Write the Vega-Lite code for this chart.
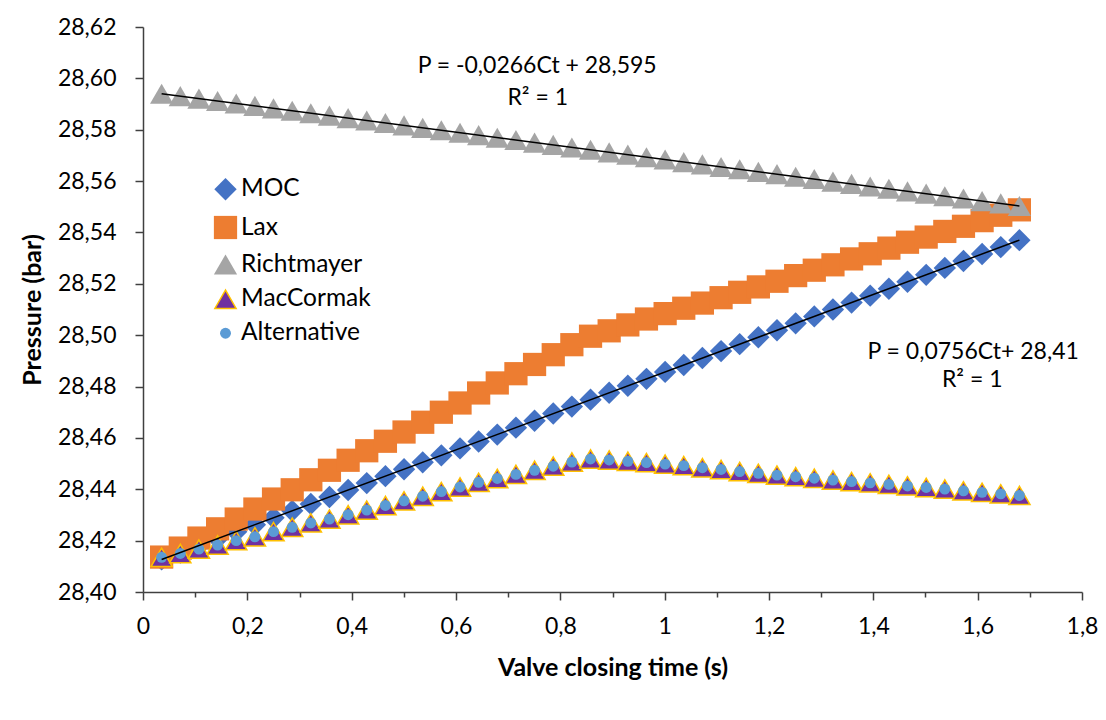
{
  "$schema": "https://vega.github.io/schema/vega-lite/v6.json",
  "autosize": {"type": "none"},
  "width": 939,
  "height": 565,
  "padding": {"left": 143, "top": 27, "right": 24, "bottom": 128},
  "background": "white",
  "config": {
    "view": {"stroke": null},
    "legend": {"labelFont": "Lato", "labelFontSize": 24.5, "labelColor": "#000000", "orient": "none", "legendX": 70, "legendY": 150, "rowPadding": 8, "labelOffset": 3, "padding": 0, "symbolStrokeWidth": 1.5}
  },
  "datasets": {
    "series": [
      {"t": 0.0357, "MOC": 28.4127, "Lax": 28.4136, "Richtmayer": 28.5940, "MacCormak": 28.4135, "Alternative": 28.4135},
      {"t": 0.0715, "MOC": 28.4154, "Lax": 28.4171, "Richtmayer": 28.5931, "MacCormak": 28.4150, "Alternative": 28.4150},
      {"t": 0.1072, "MOC": 28.4181, "Lax": 28.4210, "Richtmayer": 28.5921, "MacCormak": 28.4167, "Alternative": 28.4167},
      {"t": 0.1430, "MOC": 28.4208, "Lax": 28.4246, "Richtmayer": 28.5912, "MacCormak": 28.4183, "Alternative": 28.4183},
      {"t": 0.1787, "MOC": 28.4235, "Lax": 28.4284, "Richtmayer": 28.5902, "MacCormak": 28.4200, "Alternative": 28.4200},
      {"t": 0.2145, "MOC": 28.4262, "Lax": 28.4323, "Richtmayer": 28.5893, "MacCormak": 28.4215, "Alternative": 28.4215},
      {"t": 0.2502, "MOC": 28.4289, "Lax": 28.4362, "Richtmayer": 28.5883, "MacCormak": 28.4235, "Alternative": 28.4235},
      {"t": 0.2860, "MOC": 28.4316, "Lax": 28.4398, "Richtmayer": 28.5874, "MacCormak": 28.4252, "Alternative": 28.4252},
      {"t": 0.3217, "MOC": 28.4343, "Lax": 28.4437, "Richtmayer": 28.5864, "MacCormak": 28.4269, "Alternative": 28.4269},
      {"t": 0.3574, "MOC": 28.4370, "Lax": 28.4474, "Richtmayer": 28.5855, "MacCormak": 28.4284, "Alternative": 28.4284},
      {"t": 0.3932, "MOC": 28.4397, "Lax": 28.4513, "Richtmayer": 28.5845, "MacCormak": 28.4301, "Alternative": 28.4301},
      {"t": 0.4289, "MOC": 28.4424, "Lax": 28.4550, "Richtmayer": 28.5836, "MacCormak": 28.4319, "Alternative": 28.4319},
      {"t": 0.4647, "MOC": 28.4451, "Lax": 28.4587, "Richtmayer": 28.5826, "MacCormak": 28.4337, "Alternative": 28.4337},
      {"t": 0.5004, "MOC": 28.4478, "Lax": 28.4623, "Richtmayer": 28.5817, "MacCormak": 28.4355, "Alternative": 28.4355},
      {"t": 0.5362, "MOC": 28.4505, "Lax": 28.4661, "Richtmayer": 28.5807, "MacCormak": 28.4373, "Alternative": 28.4373},
      {"t": 0.5719, "MOC": 28.4532, "Lax": 28.4700, "Richtmayer": 28.5798, "MacCormak": 28.4391, "Alternative": 28.4391},
      {"t": 0.6077, "MOC": 28.4559, "Lax": 28.4736, "Richtmayer": 28.5788, "MacCormak": 28.4409, "Alternative": 28.4409},
      {"t": 0.6434, "MOC": 28.4586, "Lax": 28.4775, "Richtmayer": 28.5779, "MacCormak": 28.4427, "Alternative": 28.4427},
      {"t": 0.6791, "MOC": 28.4613, "Lax": 28.4814, "Richtmayer": 28.5769, "MacCormak": 28.4442, "Alternative": 28.4442},
      {"t": 0.7149, "MOC": 28.4640, "Lax": 28.4850, "Richtmayer": 28.5760, "MacCormak": 28.4458, "Alternative": 28.4458},
      {"t": 0.7506, "MOC": 28.4667, "Lax": 28.4886, "Richtmayer": 28.5750, "MacCormak": 28.4474, "Alternative": 28.4474},
      {"t": 0.7864, "MOC": 28.4695, "Lax": 28.4924, "Richtmayer": 28.5741, "MacCormak": 28.4490, "Alternative": 28.4490},
      {"t": 0.8221, "MOC": 28.4722, "Lax": 28.4963, "Richtmayer": 28.5731, "MacCormak": 28.4506, "Alternative": 28.4506},
      {"t": 0.8579, "MOC": 28.4749, "Lax": 28.4996, "Richtmayer": 28.5722, "MacCormak": 28.4518, "Alternative": 28.4518},
      {"t": 0.8936, "MOC": 28.4776, "Lax": 28.5017, "Richtmayer": 28.5712, "MacCormak": 28.4514, "Alternative": 28.4514},
      {"t": 0.9294, "MOC": 28.4803, "Lax": 28.5040, "Richtmayer": 28.5703, "MacCormak": 28.4509, "Alternative": 28.4509},
      {"t": 0.9651, "MOC": 28.4830, "Lax": 28.5063, "Richtmayer": 28.5693, "MacCormak": 28.4504, "Alternative": 28.4504},
      {"t": 1.0009, "MOC": 28.4857, "Lax": 28.5084, "Richtmayer": 28.5684, "MacCormak": 28.4498, "Alternative": 28.4498},
      {"t": 1.0366, "MOC": 28.4884, "Lax": 28.5105, "Richtmayer": 28.5674, "MacCormak": 28.4492, "Alternative": 28.4492},
      {"t": 1.0723, "MOC": 28.4911, "Lax": 28.5125, "Richtmayer": 28.5665, "MacCormak": 28.4484, "Alternative": 28.4484},
      {"t": 1.1081, "MOC": 28.4938, "Lax": 28.5146, "Richtmayer": 28.5655, "MacCormak": 28.4477, "Alternative": 28.4477},
      {"t": 1.1438, "MOC": 28.4965, "Lax": 28.5167, "Richtmayer": 28.5646, "MacCormak": 28.4469, "Alternative": 28.4469},
      {"t": 1.1796, "MOC": 28.4992, "Lax": 28.5188, "Richtmayer": 28.5636, "MacCormak": 28.4462, "Alternative": 28.4462},
      {"t": 1.2153, "MOC": 28.5019, "Lax": 28.5210, "Richtmayer": 28.5627, "MacCormak": 28.4455, "Alternative": 28.4455},
      {"t": 1.2511, "MOC": 28.5046, "Lax": 28.5232, "Richtmayer": 28.5617, "MacCormak": 28.4449, "Alternative": 28.4449},
      {"t": 1.2868, "MOC": 28.5073, "Lax": 28.5253, "Richtmayer": 28.5608, "MacCormak": 28.4443, "Alternative": 28.4443},
      {"t": 1.3226, "MOC": 28.5100, "Lax": 28.5274, "Richtmayer": 28.5598, "MacCormak": 28.4436, "Alternative": 28.4436},
      {"t": 1.3583, "MOC": 28.5127, "Lax": 28.5297, "Richtmayer": 28.5589, "MacCormak": 28.4430, "Alternative": 28.4430},
      {"t": 1.3940, "MOC": 28.5154, "Lax": 28.5317, "Richtmayer": 28.5579, "MacCormak": 28.4425, "Alternative": 28.4425},
      {"t": 1.4298, "MOC": 28.5181, "Lax": 28.5339, "Richtmayer": 28.5570, "MacCormak": 28.4419, "Alternative": 28.4419},
      {"t": 1.4655, "MOC": 28.5208, "Lax": 28.5362, "Richtmayer": 28.5560, "MacCormak": 28.4413, "Alternative": 28.4413},
      {"t": 1.5013, "MOC": 28.5235, "Lax": 28.5382, "Richtmayer": 28.5551, "MacCormak": 28.4407, "Alternative": 28.4407},
      {"t": 1.5370, "MOC": 28.5262, "Lax": 28.5404, "Richtmayer": 28.5541, "MacCormak": 28.4401, "Alternative": 28.4401},
      {"t": 1.5728, "MOC": 28.5289, "Lax": 28.5424, "Richtmayer": 28.5532, "MacCormak": 28.4394, "Alternative": 28.4394},
      {"t": 1.6085, "MOC": 28.5316, "Lax": 28.5446, "Richtmayer": 28.5522, "MacCormak": 28.4388, "Alternative": 28.4388},
      {"t": 1.6443, "MOC": 28.5343, "Lax": 28.5467, "Richtmayer": 28.5513, "MacCormak": 28.4382, "Alternative": 28.4382},
      {"t": 1.6800, "MOC": 28.5370, "Lax": 28.5488, "Richtmayer": 28.5503, "MacCormak": 28.4376, "Alternative": 28.4376}
    ],
    "notes": [
      {"t": 0.7556, "p": 28.6048, "txt": "P = -0,0266Ct + 28,595"},
      {"t": 0.7566, "p": 28.5924, "txt": "R² = 1"},
      {"t": 1.5914, "p": 28.4934, "txt": "P = 0,0756Ct+ 28,41"},
      {"t": 1.5895, "p": 28.4825, "txt": "R² = 1"}
    ]
  },
  "layer": [
    {
      "data": {"name": "series"},
      "mark": {"type": "point", "filled": true, "opacity": 1, "strokeWidth": 1.5},
      "encoding": {
        "x": {"field": "t", "type": "quantitative", "title": "Valve closing time (s)",
          "scale": {"domain": [0, 1.8], "nice": false, "zero": false},
          "axis": {
            "values": [0,0.05,0.1,0.15,0.2,0.25,0.3,0.35,0.4,0.45,0.5,0.55,0.6,0.65,0.7,0.75,0.8,0.85,0.9,0.95,1,1.05,1.1,1.15,1.2,1.25,1.3,1.35,1.4,1.45,1.5,1.55,1.6,1.65,1.7,1.75,1.8],
            "labelExpr": "abs(datum.value*5-round(datum.value*5))<0.01 ? replace(format(datum.value,'~g'),'.',',') : ''",
            "tickSize": {"condition": {"test": "abs(datum.value*5-round(datum.value*5))<0.01", "value": 8}, "value": 5},
            "grid": false, "domainColor": "#404040", "domainWidth": 1.5, "tickColor": "#404040", "tickWidth": 1.5,
            "labelFont": "Lato", "labelFontSize": 23, "labelColor": "#000000", "labelPadding": 15, "labelOverlap": false, "labelFlush": false,
            "titleFont": "Lato", "titleFontSize": 25, "titleFontWeight": "bold", "titleColor": "#000000", "titlePadding": 17
          }},
        "y": {"field": "MOC", "type": "quantitative", "title": "Pressure (bar)",
          "scale": {"domain": [28.4, 28.62], "nice": false, "zero": false},
          "axis": {
            "values": [28.4,28.405,28.41,28.415,28.42,28.425,28.43,28.435,28.44,28.445,28.45,28.455,28.46,28.465,28.47,28.475,28.48,28.485,28.49,28.495,28.5,28.505,28.51,28.515,28.52,28.525,28.53,28.535,28.54,28.545,28.55,28.555,28.56,28.565,28.57,28.575,28.58,28.585,28.59,28.595,28.6,28.605,28.61,28.615,28.62],
            "labelExpr": "abs(datum.value*50-round(datum.value*50))<0.01 ? replace(format(datum.value,'.2f'),'.',',') : ''",
            "tickSize": {"condition": {"test": "abs(datum.value*50-round(datum.value*50))<0.01", "value": 8}, "value": 5},
            "grid": false, "domainColor": "#404040", "domainWidth": 1.5, "tickColor": "#404040", "tickWidth": 1.5,
            "labelFont": "Lato", "labelFontSize": 23, "labelColor": "#000000", "labelPadding": 19, "labelOverlap": false, "labelFlush": false,
            "titleFont": "Lato", "titleFontSize": 25, "titleFontWeight": "bold", "titleColor": "#000000", "titlePadding": 12
          }},
        "color": {"datum": "MOC", "type": "nominal",
          "scale": {"domain": ["MOC", "Lax", "Richtmayer", "MacCormak", "Alternative"], "range": ["#4472C4", "#ED7D31", "#A5A5A5", "#7030A0", "#5B9BD5"]},
          "legend": {"title": null}},
        "shape": {"datum": "MOC", "type": "nominal",
          "scale": {"domain": ["MOC", "Lax", "Richtmayer", "MacCormak", "Alternative"], "range": ["diamond", "square", "triangle-up", "triangle-up", "circle"]},
          "legend": {"title": null}},
        "size": {"datum": "MOC", "type": "nominal",
          "scale": {"type": "ordinal", "domain": ["MOC", "Lax", "Richtmayer", "MacCormak", "Alternative"], "range": [500, 540, 540, 450, 120]},
          "legend": {"title": null}},
        "stroke": {"datum": "MOC", "type": "nominal",
          "scale": {"domain": ["MOC", "Lax", "Richtmayer", "MacCormak", "Alternative"], "range": ["transparent", "transparent", "transparent", "#FFC000", "transparent"]},
          "legend": {"title": null}}
      }
    },
    {
      "data": {"name": "series"},
      "mark": {"type": "point", "filled": true, "opacity": 1, "strokeWidth": 1.5},
      "encoding": {
        "x": {"field": "t", "type": "quantitative", "title": "Valve closing time (s)", "scale": {"domain": [0, 1.8], "nice": false, "zero": false}},
        "y": {"field": "Lax", "type": "quantitative", "title": "Pressure (bar)", "scale": {"domain": [28.4, 28.62], "nice": false, "zero": false}},
        "color": {"datum": "Lax", "type": "nominal", "scale": {"domain": ["MOC", "Lax", "Richtmayer", "MacCormak", "Alternative"], "range": ["#4472C4", "#ED7D31", "#A5A5A5", "#7030A0", "#5B9BD5"]}},
        "shape": {"datum": "Lax", "type": "nominal", "scale": {"domain": ["MOC", "Lax", "Richtmayer", "MacCormak", "Alternative"], "range": ["diamond", "square", "triangle-up", "triangle-up", "circle"]}},
        "size": {"datum": "Lax", "type": "nominal", "scale": {"type": "ordinal", "domain": ["MOC", "Lax", "Richtmayer", "MacCormak", "Alternative"], "range": [500, 540, 540, 450, 120]}},
        "stroke": {"datum": "Lax", "type": "nominal", "scale": {"domain": ["MOC", "Lax", "Richtmayer", "MacCormak", "Alternative"], "range": ["transparent", "transparent", "transparent", "#FFC000", "transparent"]}}
      }
    },
    {
      "data": {"name": "series"},
      "mark": {"type": "point", "filled": true, "opacity": 1, "strokeWidth": 1.5},
      "encoding": {
        "x": {"field": "t", "type": "quantitative", "title": "Valve closing time (s)", "scale": {"domain": [0, 1.8], "nice": false, "zero": false}},
        "y": {"field": "Richtmayer", "type": "quantitative", "title": "Pressure (bar)", "scale": {"domain": [28.4, 28.62], "nice": false, "zero": false}},
        "color": {"datum": "Richtmayer", "type": "nominal", "scale": {"domain": ["MOC", "Lax", "Richtmayer", "MacCormak", "Alternative"], "range": ["#4472C4", "#ED7D31", "#A5A5A5", "#7030A0", "#5B9BD5"]}},
        "shape": {"datum": "Richtmayer", "type": "nominal", "scale": {"domain": ["MOC", "Lax", "Richtmayer", "MacCormak", "Alternative"], "range": ["diamond", "square", "triangle-up", "triangle-up", "circle"]}},
        "size": {"datum": "Richtmayer", "type": "nominal", "scale": {"type": "ordinal", "domain": ["MOC", "Lax", "Richtmayer", "MacCormak", "Alternative"], "range": [500, 540, 540, 450, 120]}},
        "stroke": {"datum": "Richtmayer", "type": "nominal", "scale": {"domain": ["MOC", "Lax", "Richtmayer", "MacCormak", "Alternative"], "range": ["transparent", "transparent", "transparent", "#FFC000", "transparent"]}}
      }
    },
    {
      "data": {"name": "series"},
      "mark": {"type": "point", "filled": true, "opacity": 1, "strokeWidth": 1.5},
      "encoding": {
        "x": {"field": "t", "type": "quantitative", "title": "Valve closing time (s)", "scale": {"domain": [0, 1.8], "nice": false, "zero": false}},
        "y": {"field": "MacCormak", "type": "quantitative", "title": "Pressure (bar)", "scale": {"domain": [28.4, 28.62], "nice": false, "zero": false}},
        "color": {"datum": "MacCormak", "type": "nominal", "scale": {"domain": ["MOC", "Lax", "Richtmayer", "MacCormak", "Alternative"], "range": ["#4472C4", "#ED7D31", "#A5A5A5", "#7030A0", "#5B9BD5"]}},
        "shape": {"datum": "MacCormak", "type": "nominal", "scale": {"domain": ["MOC", "Lax", "Richtmayer", "MacCormak", "Alternative"], "range": ["diamond", "square", "triangle-up", "triangle-up", "circle"]}},
        "size": {"datum": "MacCormak", "type": "nominal", "scale": {"type": "ordinal", "domain": ["MOC", "Lax", "Richtmayer", "MacCormak", "Alternative"], "range": [500, 540, 540, 450, 120]}},
        "stroke": {"datum": "MacCormak", "type": "nominal", "scale": {"domain": ["MOC", "Lax", "Richtmayer", "MacCormak", "Alternative"], "range": ["transparent", "transparent", "transparent", "#FFC000", "transparent"]}}
      }
    },
    {
      "data": {"name": "series"},
      "mark": {"type": "point", "filled": true, "opacity": 1, "strokeWidth": 1.5},
      "encoding": {
        "x": {"field": "t", "type": "quantitative", "title": "Valve closing time (s)", "scale": {"domain": [0, 1.8], "nice": false, "zero": false}},
        "y": {"field": "Alternative", "type": "quantitative", "title": "Pressure (bar)", "scale": {"domain": [28.4, 28.62], "nice": false, "zero": false}},
        "color": {"datum": "Alternative", "type": "nominal", "scale": {"domain": ["MOC", "Lax", "Richtmayer", "MacCormak", "Alternative"], "range": ["#4472C4", "#ED7D31", "#A5A5A5", "#7030A0", "#5B9BD5"]}},
        "shape": {"datum": "Alternative", "type": "nominal", "scale": {"domain": ["MOC", "Lax", "Richtmayer", "MacCormak", "Alternative"], "range": ["diamond", "square", "triangle-up", "triangle-up", "circle"]}},
        "size": {"datum": "Alternative", "type": "nominal", "scale": {"type": "ordinal", "domain": ["MOC", "Lax", "Richtmayer", "MacCormak", "Alternative"], "range": [500, 540, 540, 450, 120]}},
        "stroke": {"datum": "Alternative", "type": "nominal", "scale": {"domain": ["MOC", "Lax", "Richtmayer", "MacCormak", "Alternative"], "range": ["transparent", "transparent", "transparent", "#FFC000", "transparent"]}}
      }
    },
    {
      "data": {"name": "series"},
      "transform": [{"regression": "MOC", "on": "t"}],
      "mark": {"type": "line", "color": "#000000", "strokeWidth": 1.5},
      "encoding": {
        "x": {"field": "t", "type": "quantitative", "title": "Valve closing time (s)", "scale": {"domain": [0, 1.8], "nice": false, "zero": false}},
        "y": {"field": "MOC", "type": "quantitative", "title": "Pressure (bar)", "scale": {"domain": [28.4, 28.62], "nice": false, "zero": false}}
      }
    },
    {
      "data": {"name": "series"},
      "transform": [{"regression": "Richtmayer", "on": "t"}],
      "mark": {"type": "line", "color": "#000000", "strokeWidth": 1.5},
      "encoding": {
        "x": {"field": "t", "type": "quantitative", "title": "Valve closing time (s)", "scale": {"domain": [0, 1.8], "nice": false, "zero": false}},
        "y": {"field": "Richtmayer", "type": "quantitative", "title": "Pressure (bar)", "scale": {"domain": [28.4, 28.62], "nice": false, "zero": false}}
      }
    },
    {
      "data": {"name": "notes"},
      "mark": {"type": "text", "font": "Lato", "fontSize": 23, "color": "#000000", "align": "center", "baseline": "middle"},
      "encoding": {
        "x": {"field": "t", "type": "quantitative", "title": "Valve closing time (s)", "scale": {"domain": [0, 1.8], "nice": false, "zero": false}},
        "y": {"field": "p", "type": "quantitative", "title": "Pressure (bar)", "scale": {"domain": [28.4, 28.62], "nice": false, "zero": false}},
        "text": {"field": "txt"}
      }
    }
  ]
}
